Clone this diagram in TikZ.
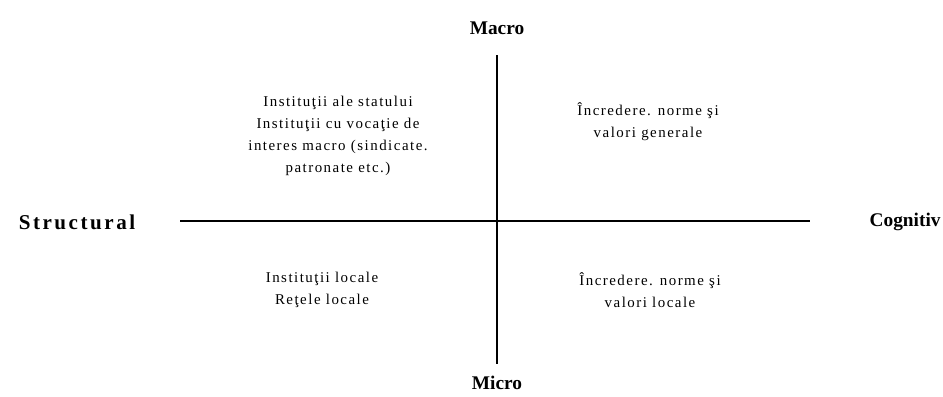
\documentclass[tikz,border=0pt]{standalone}
\usepackage{fontspec}
\setmainfont{Liberation Serif}
\begin{document}
\begin{tikzpicture}[x=0.02cm, y=-0.02cm, thick,
    axislabel/.style={font=\bfseries\fontsize{11}{13}\selectfont},
    cell/.style={align=center, font=\fontsize{8.5}{12.5}\selectfont\addfontfeatures{LetterSpace=10}}]
		\useasboundingbox (0,0) rectangle (943,396);
		%axes
		\coordinate (top) at (497,55);
		\coordinate (bottom) at (497,364);
		\coordinate (left) at (180,221);
		\coordinate (right) at (810,221);
		\draw (top) -- (bottom);
		\draw (left) -- (right);
		
		\node[axislabel] (macro) at (497,28){Macro};
		\node[axislabel] (micro) at (497,383){Micro};
		\node[axislabel, font=\bfseries\fontsize{12}{14}\selectfont\addfontfeatures{LetterSpace=12}] (structural) at (77,222){Structural};
		\node[axislabel, anchor=east, inner xsep=1pt, font=\bfseries\fontsize{11}{13}\selectfont] (cognitiv) at (943,222){Cognitiv};
		
		\node[cell] (macrostruct) at (338,136){Instituţii ale statului\\Instituţii cu vocaţie de\\interes macro (sindicate.\\patronate etc.)};
		\node[cell] (macrocogn) at (648,122){Încredere. norme şi\\valori generale};
		\node[cell] (microstruct) at (322,290){Instituţii locale\\Reţele locale};
		\node[cell] (microcogn) at (650,290){Încredere. norme şi\\valori locale};
		\end{tikzpicture}
\end{document}
